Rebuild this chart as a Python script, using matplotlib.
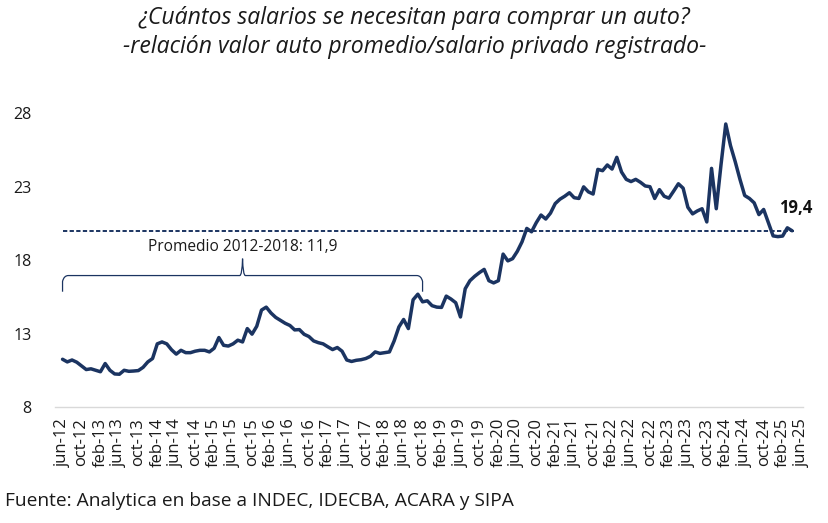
import numpy as np
import matplotlib
matplotlib.use("Agg")
import matplotlib.pyplot as plt
from matplotlib.path import Path
from matplotlib.patches import PathPatch

# ratio: average car value / registered private salary, monthly jun-12 .. apr-25
ratio = [11.25, 11.07, 11.2, 11.05, 10.8, 10.55, 10.6, 10.5, 10.4, 10.96,
         10.5, 10.25, 10.23, 10.5, 10.43, 10.45, 10.48, 10.7, 11.07, 11.3,
         12.3, 12.43, 12.3, 11.9, 11.6, 11.86, 11.7, 11.7, 11.8, 11.86,
         11.86, 11.75, 12.0, 12.73, 12.2, 12.15, 12.3, 12.55, 12.43, 13.34,
         12.96, 13.5, 14.6, 14.8, 14.4, 14.1, 13.9, 13.7, 13.55, 13.25,
         13.27, 12.95, 12.8, 12.5, 12.38, 12.3, 12.1, 11.91, 12.05, 11.8,
         11.2, 11.1, 11.18, 11.22, 11.3, 11.45, 11.75, 11.65, 11.7, 11.75,
         12.5, 13.45, 13.96, 13.34, 15.3, 15.68, 15.16, 15.23, 14.9, 14.8,
         14.78, 15.55, 15.35, 15.1, 14.13, 16.05, 16.6, 16.9, 17.15, 17.37,
         16.6, 16.45, 16.6, 18.41, 17.95, 18.1, 18.6, 19.25, 20.16, 19.93,
         20.55, 21.07, 20.8, 21.2, 21.85, 22.15, 22.35, 22.59, 22.25, 22.2,
         22.99, 22.65, 22.5, 24.18, 24.09, 24.48, 24.2, 25.0, 24.0, 23.5,
         23.35, 23.5, 23.3, 23.05, 23.0, 22.2, 22.8, 22.35, 22.22, 22.7,
         23.2, 22.9, 21.6, 21.15, 21.35, 21.5, 20.6, 24.25, 21.5, 24.5,
         27.27, 25.8, 24.7, 23.5, 22.4, 22.2, 21.9, 21.1, 21.45, 20.55,
         19.65, 19.6, 19.64, 20.2, 20.0]

months = ['jun', 'oct', 'feb']
tick_labels = []
for i in range(40):
    mo = months[i % 3]
    yr = 12 + (i * 4 + 5) // 12
    tick_labels.append(f'{mo}-{yr}')

ref_level = 20.0
last_label = '19,4'
avg_label = 'Promedio 2012-2018: 11,9'
brace_end = 76  # oct-18

navy = '#1b3461'
font = 'Open Sans'

fig = plt.figure(figsize=(8.29, 5.23), dpi=100)
ax = fig.add_axes([0.0663, 0.2218, 0.9023, 0.5897])

x = np.arange(len(ratio))
ax.plot(x, ratio, color=navy, lw=2.5, solid_joinstyle='round', solid_capstyle='round')
ax.plot([0, len(ratio) - 0.5], [ref_level, ref_level], color=navy, lw=1.4,
        linestyle=(0, (2.2, 1.2)))

# brace over 2012-2018
mid = brace_end / 2
y0, y1, y2 = 15.85, 16.95, 18.1
verts = [(0, y0), (0, y1 - 0.4), (0.3, y1), (1.2, y1),
         (mid - 0.6, y1), (mid - 0.1, y1), (mid, y2),
         (mid + 0.1, y1), (mid + 0.6, y1),
         (brace_end - 1.2, y1), (brace_end - 0.3, y1), (brace_end, y1 - 0.4), (brace_end, y0)]
codes = [Path.MOVETO, Path.LINETO, Path.CURVE3, Path.CURVE3,
         Path.LINETO, Path.CURVE3, Path.CURVE3, Path.CURVE3, Path.CURVE3,
         Path.LINETO, Path.CURVE3, Path.CURVE3, Path.LINETO]
ax.add_patch(PathPatch(Path(verts, codes), fill=False, edgecolor=navy, lw=0.9))
ax.text(mid, 18.35, avg_label, ha='center', va='bottom', fontsize=11.2,
        family=font, color='#1a1a1a')

ax.text(len(ratio) - 3.8, 20.95, last_label, ha='left', va='bottom', fontsize=12,
        family=font, fontweight='bold', color='#111111')

ax.set_xlim(-1.6, 156.3)
ax.set_ylim(8, 29)
ax.set_yticks([8, 13, 18, 23, 28])
ax.set_xticks(np.arange(0, 157, 4))
ax.set_xticklabels(tick_labels, rotation=90, fontsize=12, family=font)
for lab in ax.get_yticklabels():
    lab.set_fontsize(11.5)
    lab.set_family(font)
ax.tick_params(axis='both', length=0, colors='#1a1a1a')
ax.tick_params(axis='y', pad=17)
ax.tick_params(axis='x', pad=8)
for s in ['top', 'right', 'left']:
    ax.spines[s].set_visible(False)
ax.spines['bottom'].set_color('#d9d9d9')
ax.spines['bottom'].set_linewidth(1)

fig.text(0.5, 0.966, '¿Cuántos salarios se necesitan para comprar un auto?',
         ha='center', va='center', fontsize=16.6, style='italic', family=font, color='#1a1a1a')
fig.text(0.5, 0.91, '-relación valor auto promedio/salario privado registrado-',
         ha='center', va='center', fontsize=16.6, style='italic', family=font, color='#1a1a1a')
fig.text(0.006, 0.043, 'Fuente: Analytica en base a INDEC, IDECBA, ACARA y SIPA',
         ha='left', va='center', fontsize=13.8, family=font, color='#1a1a1a')

plt.savefig('out.png', dpi=100)
